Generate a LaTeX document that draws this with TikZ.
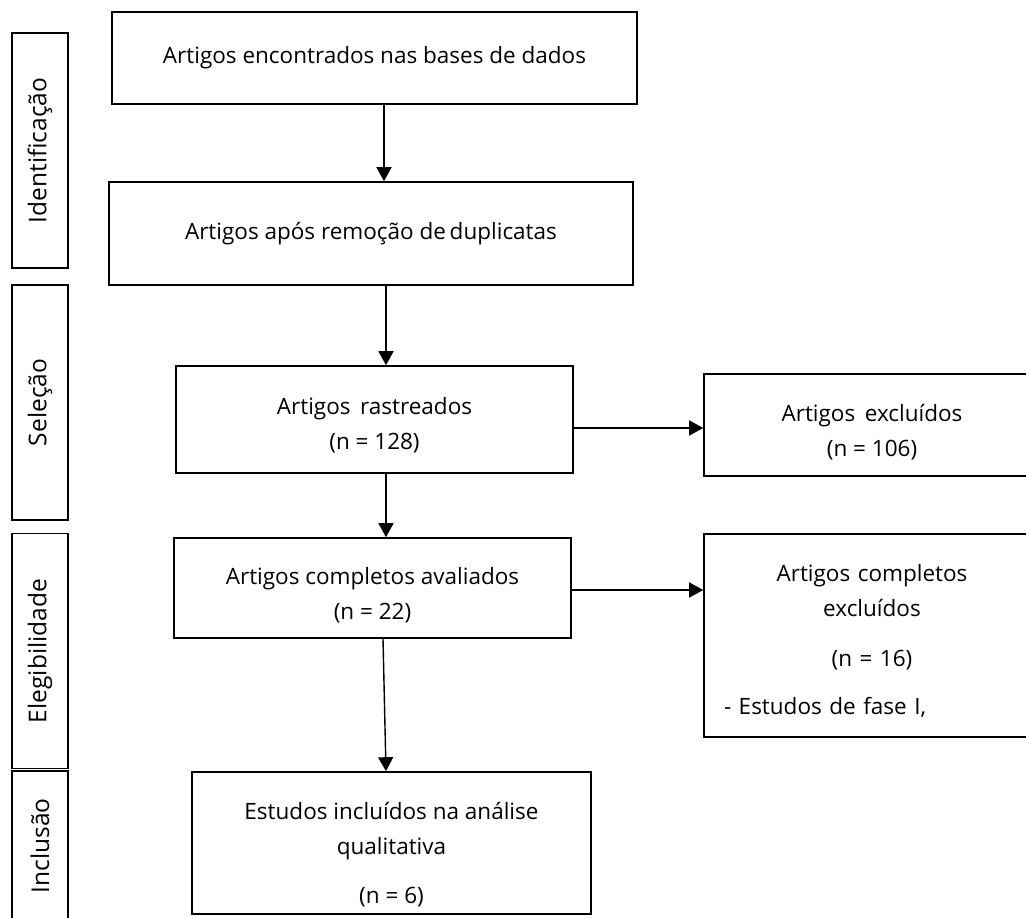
\documentclass[tikz,border=0pt]{standalone}
\usepackage{fontspec}
\setmainfont{Open Sans}
\usepackage{tikz}
\usetikzlibrary{arrows.meta,positioning,calc}

\begin{document}
\begin{tikzpicture}[x=1pt, y=-1pt,
	caixa/.style={draw, line width=1.6pt, align=center, inner sep=0pt, font=\fontsize{22.5}{35}\selectfont},
	fase/.style={caixa, rotate=90, minimum width=235pt, minimum height=56pt, font=\fontsize{24.5}{30}\selectfont},
	seta/.style={line width=1.4pt, -{Triangle[length=14pt, width=15pt]}}]
	\useasboundingbox (0,0) rectangle (1026,918);
	\clip (0,0) rectangle (1026,918);
	\node [fase] (ident) at (40,150.5) {Identificação};
	\node [fase] (selec) at (40,402.5) {Seleção};
	\node [fase] (eleg) at (40,651) {Elegibilidade};
	\node [fase, minimum width=150pt] (incl) at (40,846) {Inclusão};
	\node [caixa, minimum width=525pt, minimum height=92pt] (encontrados) at (374.5,58) {Artigos encontrados nas bases de dados};
	\node [caixa, minimum width=524pt, minimum height=103pt] (semdup) at (371,233.5) {Artigos após remoção de\,duplicatas};
	\node [caixa, minimum width=397pt, minimum height=107pt] (rastreados) at (374.5,419.5) {\rule{0pt}{29pt}Artigos\, rastreados\\(n = 128)};
	\node [caixa, minimum width=336pt, minimum height=102pt] (excluidos) at (872,425) {\rule{0pt}{32pt}Artigos\, excluídos\\(n = 106)};
	\node [caixa, minimum width=397pt, minimum height=100pt] (completos) at (372.5,588) {\rule{0pt}{31pt}Artigos completos avaliados\\(n = 22)};
	\node [caixa, minimum width=336pt, minimum height=203pt, text width=296pt] (compexcl) at (872,635.5)
		{\rule{0pt}{27pt}Artigos completos\\excluídos\\[15pt](n = 16)\\[13pt]\makebox[296pt][l]{- Estudos de fase I,}};
	\node [caixa, minimum width=399pt, minimum height=142pt] (incluidos) at (391.5,843)
		{\rule{0pt}{41pt}Estudos incluídos na análise\\qualitativa\\[14pt](n = 6)};
	\draw [seta] ([xshift=9.5pt]encontrados.south) -- ([xshift=13pt]semdup.north);
	\draw [seta] ([xshift=15pt]semdup.south) -- ([xshift=11.5pt]rastreados.north);
	\draw [seta] ([xshift=11.5pt]rastreados.south) -- ([xshift=13.5pt]completos.north);
	\draw [seta] ([xshift=10.5pt]completos.south) -- ([xshift=-5.5pt]incluidos.north);
	\draw [seta] ([yshift=-8.5pt]rastreados.east) -- ([yshift=-8.5pt]rastreados.east -| excluidos.west);
	\draw [seta] ([yshift=-2pt]completos.east) -- ([yshift=-2pt]completos.east -| compexcl.west);
\end{tikzpicture}
\end{document}
